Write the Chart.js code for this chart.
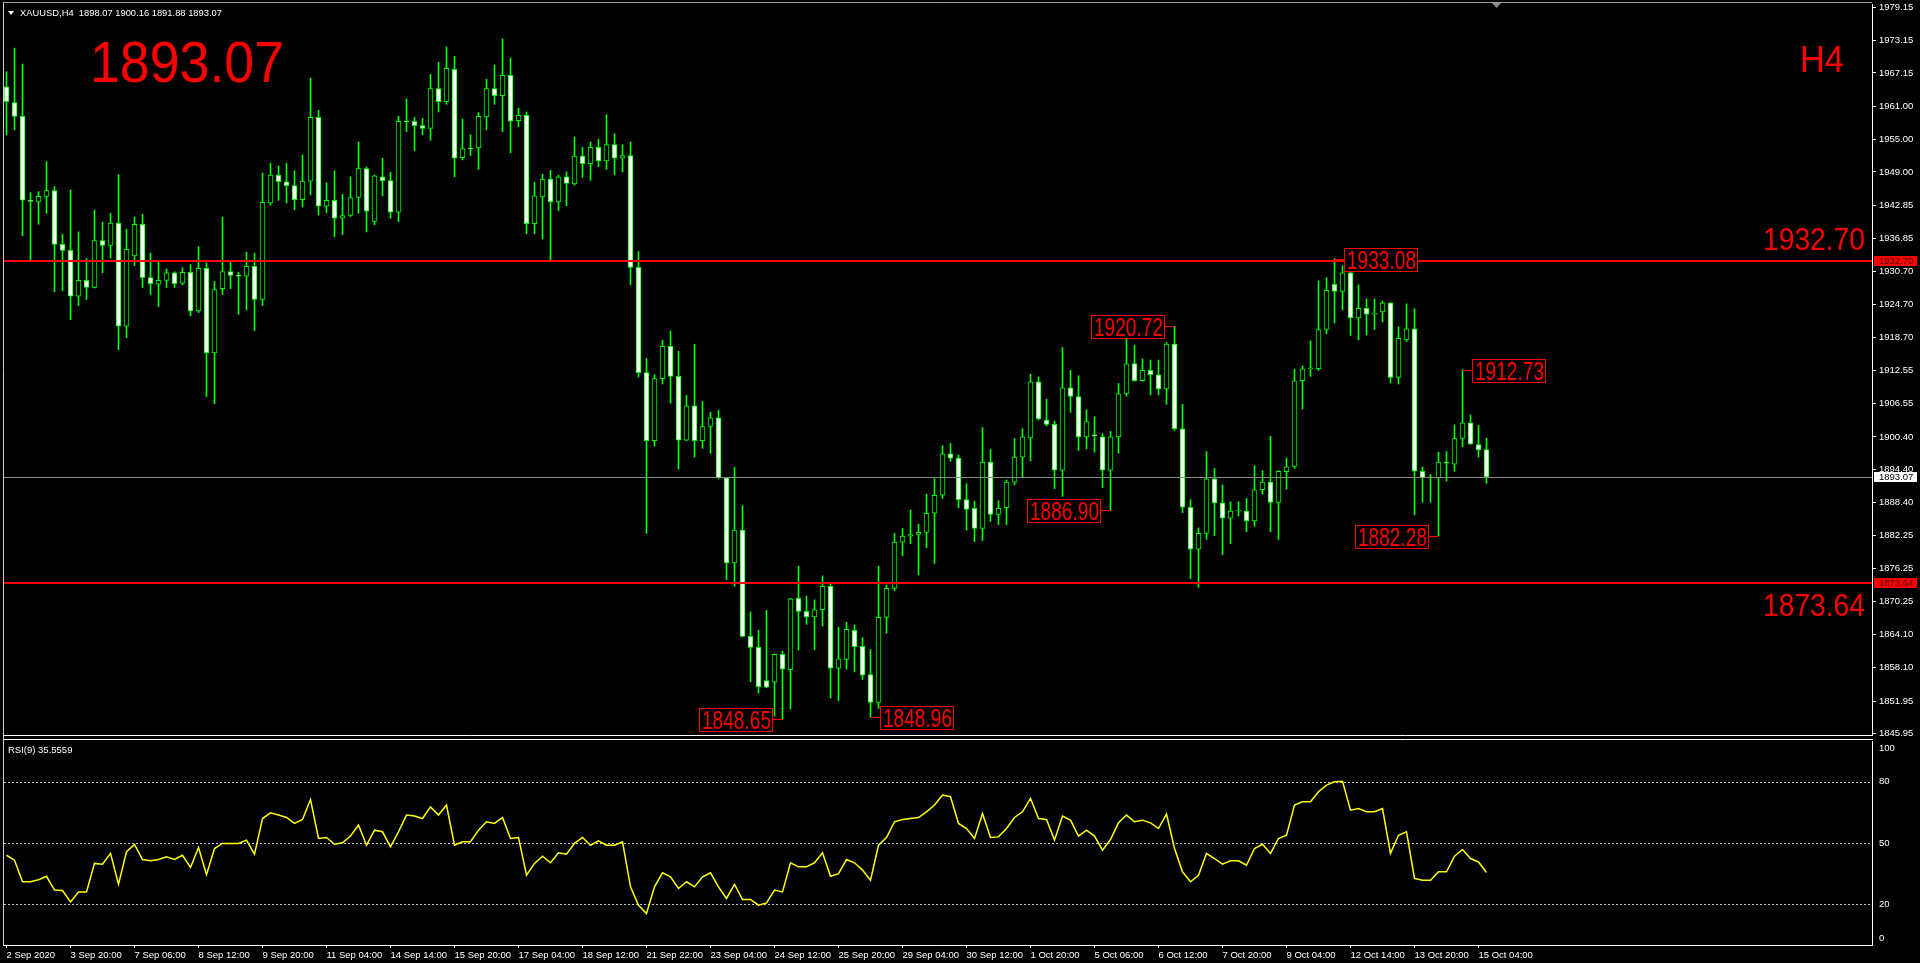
<!DOCTYPE html>
<html>
<head>
<meta charset="utf-8">
<script src="https://cdn.jsdelivr.net/npm/chart.js@4.4.0/dist/chart.umd.min.js"></script>
<style>
  html, body { margin: 0; padding: 0; background: #000; overflow: hidden; }
  #wrap { position: relative; width: 1920px; height: 963px; background: #000; }
  canvas { position: absolute; left: 0; }
  #main { top: 0; }
  #rsi { top: 737px; }
</style>
</head>
<body>
<div id="wrap">
  <canvas id="main" width="1920" height="737"></canvas>
  <canvas id="rsi" width="1920" height="226"></canvas>
</div>
<script>
// XAUUSD H4, 2 Sep 2020 .. 15 Oct 2020 08:00 (one entry per bar)
const opens = [
  1964.6,1961.7,1959.2,1943.8,1943.5,1944.5,1945.6,1935.7,1934.6,1926.2,
  1929.1,1927.8,1936.4,1935.5,1939.6,1920.7,1933.6,1939.4,1929.6,1928.4,
  1929.1,1930.5,1928.6,1930.6,1923.5,1931.3,1915.8,1927.6,1930.7,1930.0,
  1929.9,1931.7,1925.6,1943.3,1948.4,1947.2,1946.5,1943.9,1947.3,1959.0,
  1942.7,1943.8,1940.5,1941.0,1944.3,1949.6,1939.9,1948.1,1947.4,1941.6,
  1958.3,1958.3,1957.5,1957.0,1964.3,1961.9,1967.8,1951.6,1953.3,1953.4,
  1959.1,1964.3,1963.0,1966.7,1958.4,1959.4,1939.5,1944.4,1947.7,1943.5,
  1948.1,1946.8,1951.9,1950.5,1953.5,1951.0,1954.0,1951.5,1952.0,1931.5,
  1912.2,1899.7,1911.1,1917.0,1911.5,1899.8,1906.1,1899.7,1902.3,1903.9,
  1892.9,1877.3,1883.3,1863.8,1861.8,1855.7,1855.4,1860.5,1857.7,1870.8,
  1868.4,1867.4,1868.7,1873.0,1858.0,1859.6,1864.9,1862.0,1856.8,1851.7,
  1867.3,1872.6,1881.1,1882.2,1882.5,1882.9,1886.4,1889.7,1897.3,1896.5,
  1888.9,1887.3,1883.6,1895.8,1886.2,1887.4,1892.1,1896.7,1900.2,1910.5,
  1903.5,1902.7,1894.3,1909.4,1907.8,1900.4,1900.7,1900.4,1894.3,1900.4,
  1908.3,1913.85,1910.7,1912.6,1911.8,1909.2,1917.4,1901.9,1887.5,1879.8,
  1882.7,1892.7,1888.3,1885.5,1886.8,1886.8,1885.0,1890.7,1892.1,1888.4,
  1894.0,1895.0,1910.7,1912.9,1912.9,1920.1,1928.4,1927.1,1930.5,1922.2,
  1924.0,1922.9,1923.3,1925.0,1911.3,1918.2,1920.2,1894.1,1892.9,1892.9,
  1895.8,1895.4,1900.1,1903.0,1899.0,1898.07
];
const highs = [
  1967.4,1971.7,1968.8,1945.2,1945.4,1950.9,1946.3,1937.6,1945.7,1938.0,
  1933.1,1942.0,1939.8,1941.4,1948.5,1938.5,1940.7,1941.2,1934.1,1932.5,
  1931.2,1930.7,1931.4,1932.0,1935.3,1932.3,1928.9,1940.7,1932.4,1930.6,
  1934.3,1934.1,1948.8,1950.6,1950.1,1950.6,1949.2,1952.1,1966.2,1960.3,
  1947.0,1949.2,1944.9,1948.1,1954.5,1949.9,1948.4,1951.5,1948.9,1959.2,
  1962.4,1959.0,1958.8,1966.9,1969.1,1971.9,1970.2,1958.7,1955.8,1959.9,
  1966.0,1968.6,1973.4,1969.9,1960.7,1960.0,1947.1,1948.6,1949.3,1948.4,
  1949.0,1955.4,1953.5,1954.5,1955.0,1959.5,1956.0,1954.0,1954.5,1934.4,
  1914.8,1911.8,1918.1,1919.8,1916.1,1908.0,1917.4,1906.9,1904.9,1905.3,
  1893.0,1894.8,1887.8,1868.3,1864.9,1868.6,1860.6,1861.1,1870.8,1876.7,
  1871.2,1870.5,1874.9,1873.4,1865.5,1866.4,1865.9,1863.6,1861.4,1876.7,
  1873.2,1882.7,1883.6,1887.0,1884.4,1889.9,1892.7,1898.8,1899.2,1897.1,
  1891.8,1888.6,1902.1,1898.1,1888.7,1892.5,1900.1,1901.9,1911.9,1911.4,
  1907.3,1903.3,1916.8,1912.6,1911.6,1905.4,1904.1,1901.0,1901.4,1910.2,
  1918.3,1917.2,1914.7,1914.5,1914.5,1917.7,1920.72,1906.4,1888.9,1883.7,
  1897.7,1894.6,1891.6,1888.5,1888.5,1889.1,1895.1,1894.2,1900.5,1894.2,
  1896.5,1912.8,1913.4,1918.0,1929.0,1929.6,1933.08,1931.8,1931.7,1928.3,
  1925.7,1925.7,1925.3,1925.0,1920.6,1924.8,1923.9,1894.9,1893.5,1897.6,
  1897.7,1902.6,1912.73,1904.4,1902.5,1900.16
];
const lows = [
  1955.8,1956.7,1937.3,1932.9,1939.4,1941.4,1927.0,1927.2,1921.9,1924.5,
  1925.6,1927.7,1930.5,1933.2,1916.4,1918.6,1931.8,1927.8,1926.5,1924.3,
  1927.8,1927.8,1928.3,1922.6,1923.2,1907.8,1906.5,1926.5,1927.6,1922.9,
  1923.7,1919.9,1924.5,1942.9,1943.8,1943.3,1942.1,1942.6,1944.8,1941.1,
  1941.5,1937.1,1937.5,1940.8,1941.4,1938.0,1939.3,1944.6,1940.5,1939.9,
  1956.4,1952.9,1955.8,1954.8,1960.0,1961.4,1948.1,1951.2,1952.0,1949.5,
  1956.7,1961.4,1956.4,1952.5,1957.3,1937.7,1937.7,1936.7,1932.8,1941.9,
  1942.8,1946.6,1948.0,1947.5,1950.0,1949.5,1948.5,1949.0,1928.3,1911.4,
  1882.7,1898.7,1910.1,1906.6,1894.5,1899.7,1896.7,1898.3,1897.4,1892.7,
  1874.2,1873.0,1863.7,1855.5,1853.4,1854.4,1849.2,1848.65,1850.5,1861.3,
  1866.0,1861.4,1865.7,1852.5,1852.0,1857.8,1857.3,1855.9,1848.96,1850.6,
  1864.4,1872.2,1878.6,1880.8,1875.1,1880.1,1877.2,1889.1,1895.9,1887.4,
  1883.3,1881.2,1881.4,1884.9,1884.3,1884.3,1891.6,1893.1,1896.0,1903.5,
  1902.4,1890.9,1889.5,1904.9,1897.9,1898.2,1897.6,1891.1,1886.90,1897.4,
  1907.9,1910.6,1910.6,1908.1,1908.1,1906.4,1901.6,1886.5,1874.4,1872.8,
  1881.6,1882.3,1878.8,1880.8,1885.9,1883.0,1884.0,1889.9,1883.0,1881.6,
  1890.8,1894.6,1905.5,1911.5,1912.6,1919.3,1921.3,1923.7,1919.0,1918.2,
  1919.1,1920.1,1921.5,1910.3,1910.1,1917.9,1886.1,1888.4,1888.4,1882.28,
  1892.3,1894.1,1898.6,1899.0,1896.7,1891.88
];
const closes = [
  1961.9,1959.2,1943.8,1943.6,1944.5,1945.6,1935.7,1934.6,1926.2,1929.1,
  1927.8,1936.4,1935.5,1939.6,1920.7,1934.8,1939.4,1929.6,1928.5,1929.1,
  1930.5,1928.5,1930.6,1923.5,1931.3,1915.8,1927.4,1930.7,1930.0,1929.9,
  1931.7,1925.6,1943.4,1948.4,1947.2,1946.5,1943.9,1947.3,1959.0,1942.7,
  1943.8,1940.5,1941.0,1944.3,1949.6,1941.8,1948.3,1947.4,1941.6,1958.3,
  1958.2,1957.5,1957.0,1964.3,1961.9,1968.0,1951.5,1953.3,1953.2,1959.2,
  1964.3,1963.0,1966.7,1958.3,1959.4,1939.5,1944.6,1947.7,1943.5,1948.1,
  1946.9,1951.9,1950.5,1953.5,1951.0,1954.0,1951.5,1952.0,1931.5,1912.2,
  1899.7,1911.1,1917.0,1911.5,1899.8,1906.1,1899.7,1902.3,1903.9,1892.9,
  1877.3,1883.3,1863.8,1861.8,1854.6,1854.5,1860.5,1857.8,1870.7,1868.4,
  1867.4,1868.7,1873.0,1858.0,1859.7,1865.1,1861.9,1856.7,1851.7,1867.3,
  1872.6,1881.1,1882.2,1882.5,1882.9,1886.4,1889.7,1897.3,1896.5,1888.9,
  1887.1,1883.6,1895.8,1886.2,1887.3,1892.1,1896.7,1900.4,1910.5,1903.7,
  1902.7,1894.3,1909.4,1907.8,1900.4,1903.2,1900.6,1894.3,1900.4,1908.3,
  1913.8,1910.7,1912.6,1911.8,1909.2,1917.4,1901.9,1887.5,1879.8,1882.7,
  1892.7,1888.3,1885.5,1886.8,1886.8,1885.0,1890.7,1892.1,1888.4,1894.1,
  1894.9,1910.7,1912.9,1913.0,1920.1,1927.3,1927.1,1930.5,1922.2,1924.0,
  1922.9,1922.9,1925.0,1911.3,1918.5,1920.2,1894.1,1892.9,1892.9,1895.8,
  1895.6,1900.1,1903.0,1899.1,1898.0,1893.07
];
// RSI(9) line as read from the lower window
const rsiValues = [
  44.0,41.6,31.0,31.0,32.0,33.7,26.9,26.7,21.1,26.0,
  26.0,40.0,39.6,44.9,29.8,45.7,49.3,41.9,41.3,41.9,
  43.2,41.9,44.0,38.0,47.8,34.5,47.3,49.8,49.8,49.8,
  51.4,44.5,62.0,64.8,63.7,62.5,59.6,61.5,71.3,52.2,
  52.7,49.4,50.1,53.4,58.8,48.9,56.3,55.5,48.1,55.5,
  63.7,63.2,62.0,67.7,63.7,68.6,48.9,50.6,50.6,56.3,
  60.4,59.6,62.5,52.2,52.7,34.2,40.0,43.5,40.3,45.2,
  44.5,49.8,52.7,48.9,51.0,48.9,48.9,50.6,28.5,19.5,
  15.4,28.5,35.4,33.4,27.7,31.0,28.5,33.4,35.4,28.5,
  22.8,29.8,22.3,22.3,19.5,20.6,26.9,26.0,40.3,38.3,
  38.3,40.3,45.2,33.7,35.0,41.9,40.3,36.7,31.7,48.9,
  52.7,60.4,61.5,62.0,62.5,65.3,68.6,73.5,72.7,59.6,
  57.1,52.2,64.5,52.7,53.0,57.1,62.5,65.3,71.9,62.0,
  61.5,51.4,63.2,61.2,53.4,56.3,53.4,46.5,51.7,59.9,
  63.7,60.4,61.2,59.9,57.1,64.2,47.3,35.9,31.0,34.2,
  44.9,42.4,39.6,41.3,41.3,39.1,47.3,49.4,44.9,52.2,
  53.8,68.6,70.2,70.2,75.1,78.4,80.0,80.3,66.1,66.9,
  65.3,65.3,66.9,44.9,53.8,55.5,32.6,31.7,31.7,35.9,
  35.9,43.5,46.8,42.4,40.7,35.56
];
const timeLabels = [
  "2 Sep 2020","3 Sep 20:00","7 Sep 06:00","8 Sep 12:00","9 Sep 20:00","11 Sep 04:00",
  "14 Sep 14:00","15 Sep 20:00","17 Sep 04:00","18 Sep 12:00","21 Sep 22:00","23 Sep 04:00",
  "24 Sep 12:00","25 Sep 20:00","29 Sep 04:00","30 Sep 12:00","1 Oct 20:00","5 Oct 06:00",
  "6 Oct 12:00","7 Oct 20:00","9 Oct 04:00","12 Oct 14:00","13 Oct 20:00","15 Oct 04:00"
];
const barsPerTimeLabel = 8;
const priceTicks = [
  1979.15,1973.15,1967.15,1961.00,1955.00,1949.00,1942.85,1936.85,1930.70,1924.70,
  1918.70,1912.55,1906.55,1900.40,1894.40,1888.40,1882.25,1876.25,1870.25,1864.10,
  1858.10,1851.95,1845.95
];
const rsiTicks = [0, 20, 50, 80, 100];
const rsiLevels = [20, 50, 80];
const levelLines = [1932.70, 1873.64];
const bidPrice = 1893.07;
// swing labels: bar index, price, side (+1 box right of bar, -1 left)
const markIdx = [97, 108, 138, 146, 166, 179, 182];
const markPrice = [1848.65, 1848.96, 1886.90, 1920.72, 1933.08, 1882.28, 1912.73];
const markSide = [-1, 1, -1, -1, 1, -1, 1];

const GREEN = '#00ff00';
const RED = '#ff0000';
const AXIS_FONT = '9.5px "Liberation Sans"';
const X_MIN = -0.3125, X_MAX = 233.1875;

function hline(ctx, x1, x2, y) {
  ctx.beginPath(); ctx.moveTo(x1, y); ctx.lineTo(x2, y); ctx.stroke();
}
function vline(ctx, x, y1, y2) {
  ctx.beginPath(); ctx.moveTo(x, y1); ctx.lineTo(x, y2); ctx.stroke();
}
function tag(ctx, yPix, text, bg, fg) {
  const y = Math.round(yPix);
  ctx.fillStyle = bg;
  ctx.fillRect(1874, y - 5, 43, 10);
  ctx.fillStyle = fg;
  ctx.font = AXIS_FONT;
  ctx.textAlign = 'left';
  ctx.textBaseline = 'middle';
  ctx.fillText(text, 1879, y + 0.5);
}
// keep the plot area fixed: no extra room for half-height edge labels
function noEdgePad(s) {
  s.paddingTop = 0; s.paddingBottom = 0; s.paddingLeft = 0; s.paddingRight = 0;
}

const mainOverlay = {
  id: 'mainOverlay',
  afterDatasetsDraw(chart) {
    const { ctx, chartArea: a, scales: { x, y } } = chart;
    ctx.save();
    // bid line
    ctx.strokeStyle = '#8a8a8a';
    ctx.lineWidth = 1;
    hline(ctx, a.left, a.right, Math.round(y.getPixelForValue(bidPrice)) + 0.5);
    // red support / resistance lines
    ctx.strokeStyle = RED;
    ctx.lineWidth = 2;
    levelLines.forEach(v => hline(ctx, a.left, a.right, Math.round(y.getPixelForValue(v))));

    // swing price labels
    ctx.lineWidth = 1;
    markIdx.forEach((idx, k) => {
      const cx = x.getPixelForValue(idx);
      const cy = Math.round(y.getPixelForValue(markPrice[k])) + 0.5;
      const w = 74, h = 24;
      const bx = markSide[k] > 0 ? Math.round(cx + 9.5) : Math.round(cx - 9.5 - w);
      ctx.strokeStyle = RED;
      hline(ctx, cx, markSide[k] > 0 ? bx : bx + w, cy);
      ctx.fillStyle = '#000';
      ctx.fillRect(bx, cy - h / 2, w, h);
      ctx.strokeRect(bx + 0.5, Math.round(cy - h / 2) + 0.5, w - 1, h - 1);
      ctx.fillStyle = RED;
      ctx.font = '25px "Liberation Sans"';
      ctx.textAlign = 'left';
      ctx.textBaseline = 'alphabetic';
      ctx.fillText(markPrice[k].toFixed(2), bx + 3, cy + 9, w - 5);
    });

    // big text objects
    ctx.fillStyle = RED;
    ctx.textBaseline = 'alphabetic';
    ctx.textAlign = 'left';
    ctx.font = '58px "Liberation Sans"';
    ctx.fillText(closes[closes.length - 1].toFixed(2), 90, 82, 194);
    ctx.font = '36px "Liberation Sans"';
    ctx.fillText('H4', 1800, 72, 44);
    ctx.textAlign = 'right';
    ctx.font = '32px "Liberation Sans"';
    ctx.fillText(levelLines[0].toFixed(2), 1865, y.getPixelForValue(levelLines[0]) - 11, 102);
    ctx.fillText(levelLines[1].toFixed(2), 1865, y.getPixelForValue(levelLines[1]) + 33, 102);
    ctx.restore();
  },
  afterDraw(chart) {
    const { ctx, chartArea: a, scales: { y } } = chart;
    ctx.save();
    // frame
    ctx.lineWidth = 1;
    ctx.strokeStyle = '#9a9a9a';
    hline(ctx, 3, a.right, 2.5);
    ctx.strokeStyle = '#d0d0d0';
    vline(ctx, 3.5, 2, 737);
    ctx.strokeStyle = '#ffffff';
    hline(ctx, 3, a.right + 1, 735.5);
    // header
    ctx.fillStyle = '#ffffff';
    ctx.beginPath(); ctx.moveTo(8, 11); ctx.lineTo(14, 11); ctx.lineTo(11, 15); ctx.closePath(); ctx.fill();
    const n = closes.length - 1;
    ctx.font = AXIS_FONT;
    ctx.textAlign = 'left';
    ctx.textBaseline = 'alphabetic';
    ctx.fillText('XAUUSD,H4  ' + [opens[n], highs[n], lows[n], closes[n]].map(v => v.toFixed(2)).join(' '), 20, 16, 202);
    // chart shift marker
    ctx.fillStyle = '#8a8a8a';
    ctx.beginPath(); ctx.moveTo(1492, 3); ctx.lineTo(1501, 3); ctx.lineTo(1496.5, 8); ctx.closePath(); ctx.fill();
    // axis price tags
    tag(ctx, y.getPixelForValue(levelLines[0]), levelLines[0].toFixed(2), RED, '#400000');
    tag(ctx, y.getPixelForValue(levelLines[1]), levelLines[1].toFixed(2), RED, '#400000');
    tag(ctx, y.getPixelForValue(bidPrice), bidPrice.toFixed(2), '#ffffff', '#000000');
    ctx.restore();
  }
};

new Chart(document.getElementById('main'), {
  type: 'bar',
  data: {
    datasets: [
      {
        label: 'body',
        data: opens.map((o, i) => ({ x: i, y: [o, closes[i]] })),
        backgroundColor: opens.map((o, i) => closes[i] < o ? '#ffffff' : '#000000'),
        borderColor: GREEN,
        borderWidth: 1,
        borderSkipped: false,
        barThickness: 5,
        minBarLength: 1,
        grouped: false,
        order: 0
      },
      {
        label: 'wick',
        data: lows.map((l, i) => ({ x: i, y: [l, highs[i]] })),
        backgroundColor: GREEN,
        borderWidth: 0,
        barThickness: 1,
        grouped: false,
        order: 1
      }
    ]
  },
  options: {
    responsive: false,
    animation: false,
    events: [],
    layout: { padding: { left: 4, top: 4, right: 0, bottom: 2 } },
    plugins: { legend: { display: false }, tooltip: { enabled: false } },
    scales: {
      x: { type: 'linear', min: X_MIN, max: X_MAX, offset: false, display: false },
      y: {
        position: 'right',
        min: 1845.72,
        max: 1979.80,
        afterFit: s => { s.width = 48; noEdgePad(s); },
        afterBuildTicks: s => { s.ticks = priceTicks.map(v => ({ value: v })); },
        border: { display: true, color: '#ffffff', width: 1 },
        grid: { drawOnChartArea: false, drawTicks: true, tickLength: 4, color: '#ffffff' },
        ticks: {
          autoSkip: false,
          color: '#ffffff',
          font: { family: 'Liberation Sans', size: 9.5 },
          padding: 3,
          callback: v => Number(v).toFixed(2)
        }
      }
    }
  },
  plugins: [mainOverlay]
});

const rsiOverlay = {
  id: 'rsiOverlay',
  beforeDatasetsDraw(chart) {
    const { ctx, chartArea: a, scales: { y } } = chart;
    ctx.save();
    ctx.strokeStyle = '#c8c8c8';
    ctx.lineWidth = 1;
    ctx.setLineDash([2, 2]);
    rsiLevels.forEach(v => hline(ctx, a.left, a.right, Math.round(y.getPixelForValue(v)) + 0.5));
    ctx.restore();
  },
  afterDraw(chart) {
    const { ctx, chartArea: a, scales: { y } } = chart;
    ctx.save();
    ctx.lineWidth = 1;
    ctx.strokeStyle = '#ffffff';
    hline(ctx, 3, a.right + 1, 2.5);
    ctx.strokeStyle = '#d0d0d0';
    vline(ctx, 3.5, 0, a.bottom + 1);
    ctx.fillStyle = '#ffffff';
    ctx.font = AXIS_FONT;
    ctx.textAlign = 'left';
    ctx.textBaseline = 'alphabetic';
    ctx.fillText('RSI(9) 35.5559', 8, 16);
    // window scale labels, kept inside the sub-window like the terminal does
    ctx.textBaseline = 'middle';
    rsiTicks.forEach(v => {
      const py = Math.min(Math.max(y.getPixelForValue(v), a.top + 7), a.bottom - 7);
      ctx.fillText(String(v), a.right + 7, py);
    });
    ctx.restore();
  }
};

new Chart(document.getElementById('rsi'), {
  type: 'line',
  data: {
    datasets: [{
      data: rsiValues.map((v, i) => ({ x: i, y: v })),
      borderColor: '#ffff00',
      borderWidth: 1.5,
      pointRadius: 0,
      tension: 0
    }]
  },
  options: {
    responsive: false,
    animation: false,
    events: [],
    layout: { padding: { left: 4, top: 4, right: 0, bottom: 0 } },
    plugins: { legend: { display: false }, tooltip: { enabled: false } },
    scales: {
      x: {
        type: 'linear', min: X_MIN, max: X_MAX, offset: false,
        afterFit: s => { s.height = 18; noEdgePad(s); },
        afterBuildTicks: s => { s.ticks = timeLabels.map((t, k) => ({ value: k * barsPerTimeLabel })); },
        border: { display: true, color: '#ffffff', width: 1 },
        grid: { drawOnChartArea: false, drawTicks: true, tickLength: 3, color: '#ffffff' },
        ticks: {
          autoSkip: false, maxRotation: 0, align: 'start',
          color: '#ffffff',
          font: { family: 'Liberation Sans', size: 9.5 },
          padding: 2,
          callback: v => timeLabels[Math.round(v / barsPerTimeLabel)] || ''
        }
      },
      y: {
        position: 'right', min: 0, max: 100,
        afterFit: s => { s.width = 48; noEdgePad(s); },
        afterBuildTicks: s => { s.ticks = rsiTicks.map(v => ({ value: v })); },
        border: { display: true, color: '#ffffff', width: 1 },
        grid: { drawOnChartArea: false, drawTicks: false, color: '#ffffff' },
        ticks: { display: false }
      }
    }
  },
  plugins: [rsiOverlay]
});
</script>
</body>
</html>
